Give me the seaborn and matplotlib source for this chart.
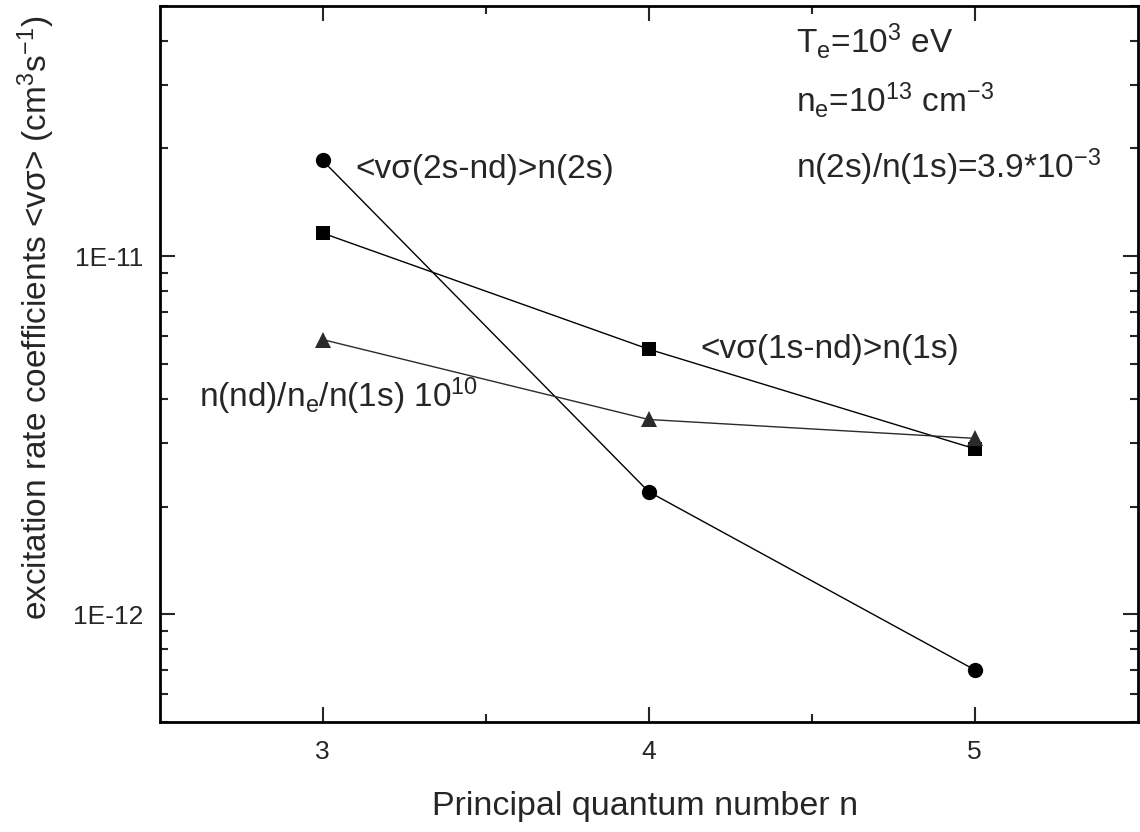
import seaborn as sns
import matplotlib.pyplot as plt
import numpy as np
from matplotlib.ticker import FixedLocator, FixedFormatter, LogLocator, NullFormatter

# --- data ---
n_levels = [3, 4, 5]
rate_2s = [1.85e-11, 2.2e-12, 7.0e-13]    # <v sigma(2s-nd)> n(2s)
rate_1s = [1.16e-11, 5.5e-12, 2.9e-12]    # <v sigma(1s-nd)> n(1s)
pop_nd = [5.85e-12, 3.5e-12, 3.1e-12]     # n(nd)/n_e/n(1s) 1e10

ytick_vals = [1e-12, 1e-11]
ytick_labels = ["1E-12", "1E-11"]
xtick_vals = [3, 4, 5]
xtick_labels = ["3", "4", "5"]

# --- style ---
sns.set_style("ticks")
plt.rcParams["font.family"] = ["Liberation Sans", "DejaVu Sans"]
plt.rcParams["mathtext.fontset"] = "custom"
plt.rcParams["mathtext.rm"] = "Liberation Sans"
plt.rcParams["mathtext.it"] = "Liberation Sans"

fig, ax = plt.subplots(figsize=(11.4, 8.32), dpi=100)
fig.subplots_adjust(left=0.140, right=0.998, top=0.993, bottom=0.132)

line_kw = dict(color="black", linewidth=1.0, markeredgewidth=0)
sns.lineplot(x=n_levels, y=rate_2s, marker="o", markersize=11, ax=ax, **line_kw)
sns.lineplot(x=n_levels, y=rate_1s, marker="s", markersize=9.5, ax=ax, **line_kw)
sns.lineplot(x=n_levels, y=pop_nd, marker="^", markersize=12, ax=ax,
             color="#2b2b2b", linewidth=1.0, markeredgewidth=0)

ax.set_yscale("log")
ax.set_xlim(2.5, 5.5)
ax.set_ylim(5e-13, 5e-11)

# ticks
ax.xaxis.set_major_locator(FixedLocator(xtick_vals))
ax.xaxis.set_major_formatter(FixedFormatter(xtick_labels))
ax.xaxis.set_minor_locator(FixedLocator([3.5, 4.5]))
ax.yaxis.set_major_locator(FixedLocator(ytick_vals))
ax.yaxis.set_major_formatter(FixedFormatter(ytick_labels))
ax.yaxis.set_minor_locator(LogLocator(base=10, subs=np.arange(2, 10)))
ax.yaxis.set_minor_formatter(NullFormatter())
ax.tick_params(which="both", direction="in", top=True, right=True, width=1.5)
ax.tick_params(which="major", length=11, labelsize=19)
ax.tick_params(axis="x", which="major", pad=13)
ax.tick_params(axis="y", which="major", pad=12)
ax.tick_params(which="minor", length=6)
for sp in ax.spines.values():
    sp.set_linewidth(2)
    sp.set_color("black")

# labels
ax.set_xlabel("Principal quantum number n", fontsize=24.5, va="baseline")
ax.xaxis.set_label_coords(0.496, -0.130)
ax.set_ylabel("excitation rate coefficients <vσ> (cm$^3$s$^{-1}$)", fontsize=24, va="center")
ax.yaxis.set_label_coords(-0.126, 0.564)

# annotations
ax.text(3.1, 1.65e-11, "<vσ(2s-nd)>n(2s)", fontsize=24, va="baseline")
ax.text(4.16, 5.18e-12, "<vσ(1s-nd)>n(1s)", fontsize=24, va="baseline")
ax.text(2.62, 3.78e-12, "n(nd)/n$_e$/n(1s) 10$^{10}$", fontsize=24, va="baseline")

ax.text(0.651, 0.934, "T$_e$=10$^3$ eV", fontsize=24, transform=ax.transAxes, va="baseline")
ax.text(0.651, 0.852, "n$_e$=10$^{13}$ cm$^{-3}$", fontsize=24, transform=ax.transAxes, va="baseline")
ax.text(0.651, 0.760, "n(2s)/n(1s)=3.9*10$^{-3}$", fontsize=24, transform=ax.transAxes, va="baseline")

plt.savefig("out.png", dpi=100)
